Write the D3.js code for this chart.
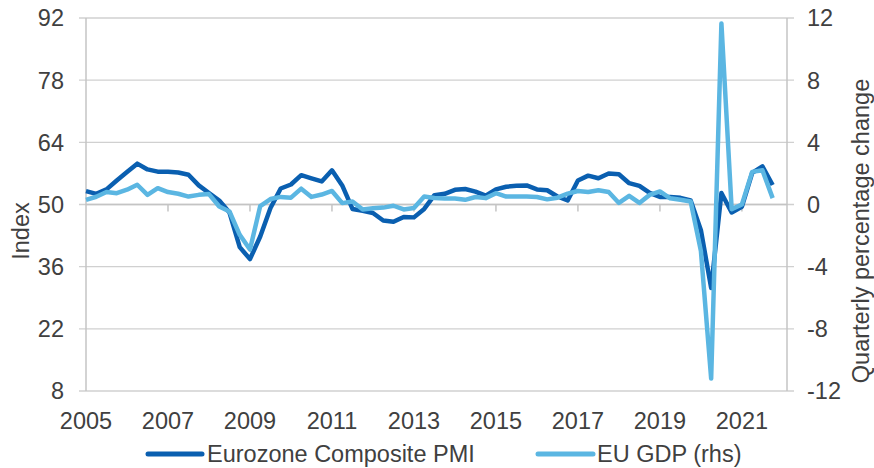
<!DOCTYPE html>
<html>
<head>
<meta charset="utf-8">
<script src="https://cdn.jsdelivr.net/npm/d3@7"></script>
<style>
  body { margin: 0; background: #fff; }
  svg text { font-family: "Liberation Sans", Arial, sans-serif; fill: #404040; font-size: 23.5px; }
</style>
</head>
<body>
<svg id="chart" width="874" height="468"></svg>
<script>
// Quarterly data, 2005 Q1 .. 2021 Q4
var startYear = 2005;
var pmi = [
  53.0, 52.4, 53.4, 55.4, 57.3, 59.2, 57.9, 57.4, 57.4, 57.2, 56.7, 54.3,
  52.6, 50.9, 48.2, 40.4, 37.7, 42.8, 49.2, 53.6, 54.5, 56.6, 55.9, 55.2,
  57.7, 54.3, 49.0, 48.6, 48.1, 46.4, 46.1, 47.2, 47.1, 49.0, 52.1, 52.4,
  53.3, 53.5, 52.9, 52.0, 53.4, 54.0, 54.2, 54.3, 53.4, 53.2, 51.8, 50.9,
  55.4, 56.5, 55.9, 57.0, 56.8, 54.8, 54.2, 52.6, 51.7, 51.7, 51.5, 50.9,
  44.2, 31.2, 52.6, 48.2, 49.5, 57.1, 58.6, 54.4
];
var gdp = [
  0.30, 0.50, 0.80, 0.73, 0.95, 1.27, 0.62, 1.05, 0.80, 0.69, 0.51, 0.62,
  0.67, -0.13, -0.45, -1.95, -2.90, -0.10, 0.35, 0.49, 0.44, 1.02, 0.49, 0.64,
  0.87, 0.09, 0.19, -0.32, -0.24, -0.20, -0.08, -0.32, -0.23, 0.51, 0.42, 0.38,
  0.38, 0.30, 0.48, 0.41, 0.73, 0.51, 0.51, 0.51, 0.48, 0.33, 0.44, 0.70,
  0.87, 0.80, 0.92, 0.80, 0.10, 0.56, 0.10, 0.62, 0.84, 0.40, 0.30, 0.19,
  -3.00, -11.20, 11.65, -0.30, 0.00, 2.10, 2.20, 0.41
];
var quarters = pmi.map(function(d, i){ return startYear + i / 4; });

var leftTicks = [8, 22, 36, 50, 64, 78, 92];
var rightTicks = [-12, -8, -4, 0, 4, 8, 12];
var yearTicks = [2005, 2007, 2009, 2011, 2013, 2015, 2017, 2019, 2021];

var seriesNames = ["Eurozone Composite PMI", "EU GDP (rhs)"];
var colors = ["#0a5fb0", "#5bb6e2"];

// plot area
var plotL = 86, plotR = 787, plotT = 18, plotB = 391;

var svg = d3.select("#chart");

var x = d3.scaleLinear().domain([2005, 2022.1]).range([plotL, plotR]);
var yL = d3.scaleLinear().domain([8, 92]).range([plotB, plotT]);
var yR = d3.scaleLinear().domain([-12, 12]).range([plotB, plotT]);

// gridlines
svg.append("g")
  .selectAll("line")
  .data(leftTicks)
  .enter()
  .append("line")
  .attr("x1", plotL - 7)
  .attr("x2", plotR + 7)
  .attr("y1", function(d){ return yL(d); })
  .attr("y2", function(d){ return yL(d); })
  .attr("stroke", "#d0d0d0")
  .attr("stroke-width", 1.3);

// vertical axis lines
svg.append("line")
  .attr("x1", plotL).attr("x2", plotL)
  .attr("y1", plotT).attr("y2", plotB)
  .attr("stroke", "#c4c4c4").attr("stroke-width", 1.5);
svg.append("line")
  .attr("x1", plotR).attr("x2", plotR)
  .attr("y1", plotT).attr("y2", plotB)
  .attr("stroke", "#c4c4c4").attr("stroke-width", 1.5);

// category axis crosses at 50
svg.append("line")
  .attr("x1", plotL).attr("x2", plotR)
  .attr("y1", yL(50)).attr("y2", yL(50))
  .attr("stroke", "#c4c4c4").attr("stroke-width", 1.5);
svg.append("g")
  .selectAll("line")
  .data(yearTicks.slice(1))
  .enter()
  .append("line")
  .attr("x1", function(d){ return x(d); })
  .attr("x2", function(d){ return x(d); })
  .attr("y1", yL(50))
  .attr("y2", yL(50) + 7)
  .attr("stroke", "#c4c4c4").attr("stroke-width", 1.5);

// tick labels
svg.append("g")
  .selectAll("text")
  .data(leftTicks)
  .enter()
  .append("text")
  .attr("x", plotL - 22)
  .attr("y", function(d){ return yL(d); })
  .attr("dy", "0.36em")
  .attr("text-anchor", "end")
  .text(function(d){ return d; });

svg.append("g")
  .selectAll("text")
  .data(rightTicks)
  .enter()
  .append("text")
  .attr("x", plotR + 20)
  .attr("y", function(d){ return yR(d); })
  .attr("dy", "0.36em")
  .attr("text-anchor", "start")
  .text(function(d){ return d; });

svg.append("g")
  .selectAll("text")
  .data(yearTicks)
  .enter()
  .append("text")
  .attr("x", function(d){ return x(d); })
  .attr("y", 429)
  .attr("text-anchor", "middle")
  .text(function(d){ return d; });

// axis titles
svg.append("text")
  .attr("transform", "translate(29,231) rotate(-90)")
  .attr("text-anchor", "middle")
  .text("Index");
svg.append("text")
  .attr("transform", "translate(869,231) rotate(-90)")
  .attr("text-anchor", "middle")
  .text("Quarterly percentage change");

// lines
var pmiLine = d3.line()
  .x(function(d, i){ return x(quarters[i]); })
  .y(function(d){ return yL(d); });
var gdpLine = d3.line()
  .x(function(d, i){ return x(quarters[i]); })
  .y(function(d){ return yR(d); });

svg.append("path")
  .datum(pmi)
  .attr("d", pmiLine)
  .attr("fill", "none")
  .attr("stroke", colors[0])
  .attr("stroke-width", 4.5)
  .attr("stroke-linejoin", "round");
svg.append("path")
  .datum(gdp)
  .attr("d", gdpLine)
  .attr("fill", "none")
  .attr("stroke", colors[1])
  .attr("stroke-width", 4.5)
  .attr("stroke-linejoin", "round");

// legend
var legendPos = [[148, 202, 207], [538, 593, 597]];
seriesNames.forEach(function(name, k){
  svg.append("line")
    .attr("x1", legendPos[k][0]).attr("x2", legendPos[k][1])
    .attr("y1", 454).attr("y2", 454)
    .attr("stroke", colors[k])
    .attr("stroke-width", 5)
    .attr("stroke-linecap", "round");
  svg.append("text")
    .attr("x", legendPos[k][2])
    .attr("y", 454)
    .attr("dy", "0.36em")
    .text(name);
});
</script>
</body>
</html>
